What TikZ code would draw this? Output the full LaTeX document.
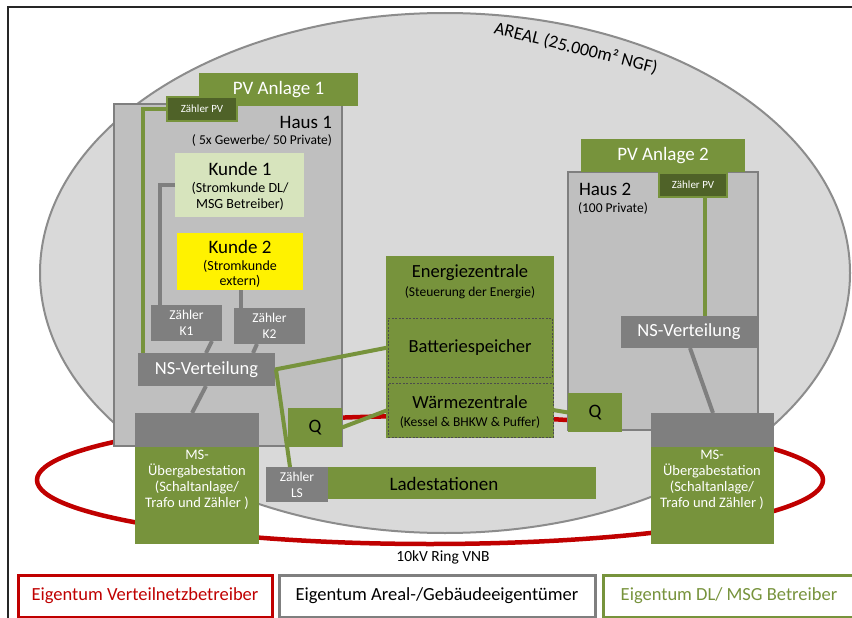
\documentclass[tikz,border=0pt]{standalone}
\usepackage{fontspec}
\setmainfont{Carlito}
\definecolor{grn}{HTML}{77933C}
\definecolor{dgrn}{HTML}{4F6228}
\definecolor{lgrn}{HTML}{D7E4BD}
\definecolor{gbox}{HTML}{7F7F7F}
\definecolor{hfill}{HTML}{BFBFBF}
\definecolor{efill}{HTML}{D9D9D9}
\definecolor{eline}{HTML}{8C8C8C}
\definecolor{rred}{HTML}{C00000}
\newcommand\fsz[2]{\fontsize{#1}{#2}\selectfont}
\tikzset{
  box/.style={anchor=north west, inner sep=0pt, outer sep=0pt, align=center},
  txt/.style={inner sep=0pt, outer sep=0pt, align=center},
  greenbox/.style={box, fill=grn},
  graybox/.style={box, fill=gbox, text=white},
  hausbox/.style={box, fill=hfill, draw=gbox, line width=2.5pt},
  zpvbox/.style={box, fill=dgrn, draw=grn, line width=2pt, text=white, font=\fsz{11}{13}},
  dashbox/.style={box, draw=black!70, line width=0.9pt, dash pattern=on 2pt off 1.5pt},
  gline/.style={grn, line width=4pt},
  kline/.style={gbox, line width=4pt},
  legbox/.style={box, fill=white, line width=3pt, font=\fsz{18.5}{21}}
}
\begin{document}
\begin{tikzpicture}[x=1pt,y=-1pt]
\useasboundingbox (0,0) rectangle (852,618);
\fill[white] (0,0) rectangle (852,618);
% frame
\draw[line width=1.5pt, black!85] (8,630) -- (8,7) -- (870,7);
% Areal ellipse
\draw[fill=efill, draw=eline, line width=2pt] (445,273) ellipse [x radius=405pt, y radius=260pt];
\node[txt, rotate=-14, font=\fsz{18}{21}] (areal) at (576,48) {AREAL (25.000m² NGF)};
% Ring
\draw[rred, line width=4.5pt] (430,480) ellipse [x radius=393pt, y radius=64pt];
\node[txt, font=\fsz{15.5}{18}] (ring) at (443,557) {10kV Ring VNB};

% Haus 1
\node[hausbox, minimum width=228pt, minimum height=342pt] (haus1) at (114,104) {};
\node[greenbox, minimum width=159pt, minimum height=33pt, text=white, font=\fsz{19}{22}] (pv1) at (199,73) {PV Anlage 1};
\node[zpvbox, minimum width=70pt, minimum height=24pt] (zpv1) at (167,97) {Zähler PV};
\node[txt, anchor=east, font=\fsz{19}{22}] (haus1t) at (332,122) {Haus 1};
\node[txt, anchor=east, font=\fsz{13.5}{16}] (haus1s) at (332,140) {( 5x Gewerbe/ 50 Private)};
\node[box, fill=lgrn, minimum width=129pt, minimum height=64pt] (kunde1) at (175,153) {};
\node[txt, font=\fsz{19}{22}] (kunde1t) at (240,169) {Kunde 1};
\node[txt, font=\fsz{14}{16}] (kunde1s) at (240,196) {(Stromkunde DL/\\MSG Betreiber)};
\node[box, fill=yellow, minimum width=126pt, minimum height=57pt] (kunde2) at (177,233) {};
\node[txt, font=\fsz{19}{22}] (kunde2t) at (240,247) {Kunde 2};
\node[txt, font=\fsz{14}{15}] (kunde2s) at (240,273.5) {(Stromkunde\\extern)};
\node[graybox, minimum width=71pt, minimum height=36pt, font=\fsz{13.5}{16}] (zk1) at (151,305) {Zähler\\K1};
\node[graybox, minimum width=71pt, minimum height=36pt, font=\fsz{13.5}{16}] (zk2) at (234,308) {Zähler\\K2};
\node[graybox, minimum width=137pt, minimum height=33pt, font=\fsz{18.5}{21}] (ns1) at (138,353) {NS-Verteilung};
\node[graybox, minimum width=124pt, minimum height=34pt] (ms1t) at (135,413) {};
\node[greenbox, minimum width=124pt, minimum height=97pt] (ms1) at (135,447) {};
\node[txt, text=white, font=\fsz{14.5}{16}] (ms1s) at (197,480) {MS-\\Übergabestation\\(Schaltanlage/\\Trafo und Zähler )};
\node[greenbox, minimum width=54pt, minimum height=39pt, font=\fsz{19}{22}] (q1) at (288,408) {Q};
\node[graybox, minimum width=62pt, minimum height=35pt, font=\fsz{13.5}{16}] (zls) at (266,467) {Zähler\\LS};
\node[greenbox, minimum width=268pt, minimum height=32pt] (lade) at (328,467) {};
\node[txt, font=\fsz{19}{22}] (ladet) at (444,484) {Ladestationen};

% Energiezentrale
\node[greenbox, minimum width=168pt, minimum height=182pt] (ez) at (386,256) {};
\node[txt, font=\fsz{18.5}{21}] (ezt) at (470,273) {Energiezentrale};
\node[txt, font=\fsz{13.5}{16}] (ezs) at (470,293) {(Steuerung der Energie)};
\node[dashbox, minimum width=164pt, minimum height=59pt, font=\fsz{18.5}{21}] (batt) at (388,318) {Batteriespeicher};
\node[dashbox, minimum width=165pt, minimum height=54pt] (waerme) at (388,383) {};
\node[txt, font=\fsz{18.5}{21}] (waermet) at (470,402) {Wärmezentrale};
\node[txt, font=\fsz{13.5}{16}] (waermes) at (470,422) {(Kessel \& BHKW \& Puffer)};

% Haus 2
\node[hausbox, minimum width=190pt, minimum height=258pt] (haus2) at (568,172) {};
\node[greenbox, minimum width=164pt, minimum height=33pt, text=white, font=\fsz{19}{22}] (pv2) at (581,139) {PV Anlage 2};
\node[zpvbox, minimum width=68pt, minimum height=24pt] (zpv2) at (659,173) {Zähler PV};
\node[txt, anchor=west, font=\fsz{19}{22}] (haus2t) at (579,189) {Haus 2};
\node[txt, anchor=west, font=\fsz{13.5}{16}] (haus2s) at (578,208) {(100 Private)};
\node[graybox, minimum width=136pt, minimum height=32pt, font=\fsz{18.5}{21}] (ns2) at (621,316) {NS-Verteilung};
\node[greenbox, minimum width=54pt, minimum height=39pt, font=\fsz{19}{22}] (q2) at (568,393) {Q};
\node[graybox, minimum width=123pt, minimum height=34pt] (ms2t) at (651,413) {};
\node[greenbox, minimum width=123pt, minimum height=97pt] (ms2) at (651,447) {};
\node[txt, text=white, font=\fsz{14.5}{16}] (ms2s) at (712,480) {MS-\\Übergabestation\\(Schaltanlage/\\Trafo und Zähler )};

% helper x coordinates
\coordinate (xa) at (143,0);
\coordinate (xb) at (160,0);
\coordinate (xc) at (241,0);
\coordinate (xd) at (290,0);
\coordinate (xe) at (705,0);
\coordinate (x1) at (212,0);
\coordinate (x2) at (206,0);
\coordinate (x3) at (257,0);
\coordinate (x4) at (253,0);
\coordinate (x5) at (192,0);
\coordinate (x6) at (690,0);
\coordinate (x7) at (713,0);

% green connectors
\draw[gline] (zpv1.west) -| (ns1.north -| xa);
\draw[gline] (zpv2.south -| xe) -- (ns2.north -| xe);
\draw[gline] (ns1.east) -- (batt.west);
\draw[gline] ([xshift=1pt]ns1.east) -- (zls.north -| xd);
\draw[gline] (q1.east) -- (waerme.west);
\draw[gline] (waerme.east) -- (q2.west);
% gray connectors
\draw[kline] (kunde1.west) -| (zk1.north -| xb);
\draw[kline] (kunde2.south -| xc) -- (zk2.north -| xc);
\draw[kline] (zk1.south -| x1) -- (ns1.north -| x2);
\draw[kline] (zk2.south -| x3) -- (ns1.north -| x4);
\draw[kline] (ns1.south -| x2) -- (ms1t.north -| x5);
\draw[kline] (ns2.south -| x6) -- (ms2t.north -| x7);

% legend
\node[legbox, draw=rred, text=rred, minimum width=254pt, minimum height=42pt] (leg1) at (18,575) {Eigentum Verteilnetzbetreiber};
\node[legbox, draw=gbox, text=black, minimum width=316pt, minimum height=42pt] (leg2) at (279,575) {Eigentum Areal-/Gebäudeeigentümer};
\node[legbox, draw=grn, text=grn, minimum width=252pt, minimum height=42pt] (leg3) at (603,575) {Eigentum DL/ MSG Betreiber};
\end{tikzpicture}
\end{document}
